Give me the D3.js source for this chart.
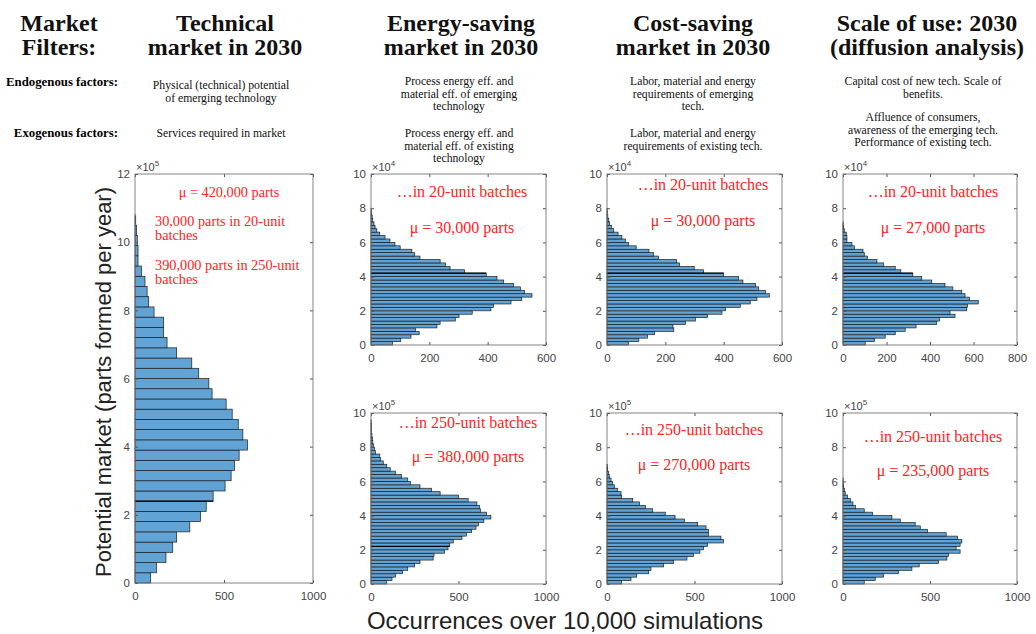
<!DOCTYPE html>
<html>
<head>
<meta charset="utf-8" />
<title>Market filters 2030</title>
<script src="https://cdnjs.cloudflare.com/ajax/libs/d3/7.8.5/d3.min.js"></script>
<style>
  body { margin: 0; background: #fff; }
  svg { display: block; }
</style>
</head>
<body>
<svg id="chart" width="1036" height="634"></svg>
<script>
// histogram counts, lowest bin first
let technical = [88, 120, 174, 212, 234, 308, 368, 400, 439, 506, 540, 559, 585, 632, 606, 580, 546, 512,
                 433, 415, 358, 319, 234, 180, 161, 161, 107, 77, 68, 56, 36, 17, 17, 13, 9, 4]   // 30,000-part bins
let energy20 = [74, 102, 137, 165, 152, 226, 237, 289, 302, 347, 411, 420, 480, 517, 552, 526, 512, 489, 455, 432,
                395, 321, 271, 255, 237, 168, 150, 140, 100, 82, 65, 48, 30, 20, 14, 10, 6, 4, 2, 1]  // 2,000-part bins
let cost20 = [74, 109, 139, 163, 229, 226, 269, 303, 345, 394, 406, 457, 491, 514, 557, 543, 520, 509, 466, 451,
              400, 331, 299, 249, 238, 177, 160, 144, 100, 74, 63, 51, 38, 23, 15, 9, 6, 3, 2, 1]
let scale20 = [102, 145, 194, 240, 286, 336, 431, 443, 515, 492, 569, 572, 622, 581, 561, 546, 505, 469, 408, 362,
               321, 266, 240, 187, 156, 113, 98, 92, 52, 41, 18, 18, 15, 6, 3, 1]
let energy250 = [90, 120, 140, 180, 210, 250, 280, 355, 360, 420, 440, 450, 470, 520, 545, 575, 600, 615, 645, 685,
                 660, 625, 620, 605, 555, 500, 395, 345, 280, 225, 210, 175, 140, 110, 90, 70, 55, 50, 25, 20,
                 15, 10, 8, 5, 3, 2, 2, 1]   // 20,000-part bins
let cost250 = [84, 137, 170, 238, 251, 324, 381, 457, 495, 531, 552, 575, 665, 651, 579, 579, 566, 518, 442, 389,
               333, 261, 219, 185, 147, 84, 80, 61, 42, 32, 23, 13, 8, 4, 2]
let scale250 = [122, 185, 233, 319, 396, 438, 549, 597, 606, 673, 650, 673, 683, 658, 593, 485, 444, 415, 329, 281,
                170, 122, 71, 57, 42, 27, 13, 8, 4, 2, 1]

let columnTitles = [["Market", "Filters:"], ["Technical", "market in 2030"], ["Energy-saving", "market in 2030"],
                    ["Cost-saving", "market in 2030"], ["Scale of use: 2030", "(diffusion analysis)"]]
let rowLabels = ["Endogenous factors:", "Exogenous factors:"]
let endogenous = [["Physical (technical) potential", "of emerging technology"],
                  ["Process energy eff. and", "material eff. of emerging", "technology"],
                  ["Labor, material and energy", "requirements of emerging", "tech."],
                  ["Capital cost of new tech. Scale of", "benefits."]]
let exogenous = [["Services required in market"],
                 ["Process energy eff. and", "material eff. of existing", "technology"],
                 ["Labor, material and energy", "requirements of existing tech."],
                 ["Affluence of consumers,", "awareness of the emerging tech.", "Performance of existing tech."]]
let technicalNotes = ["\u03bc = 420,000 parts", "30,000 parts in 20-unit", "batches", "390,000 parts in 250-unit", "batches"]
let batchNotes = ["\u2026in 20-unit batches", "\u2026in 250-unit batches"]
let means = ["30,000", "30,000", "27,000", "380,000", "270,000", "235,000"]

let yAxisLabel = "Potential market (parts formed per year)"
let xAxisLabel = "Occurrences over 10,000 simulations"

const svg = d3.select('#chart')
const serif = "'Liberation Serif', 'DejaVu Serif', serif"
const sans = "'Liberation Sans', Arial, sans-serif"

// header
const colX = [59, 225, 461, 693, 927]
columnTitles.forEach(function(t, i) {
  t.forEach(function(line, j) {
    svg.append('text').attr('x', colX[i]).attr('y', 31 + j * 24).attr('text-anchor', 'middle')
      .attr('font-family', serif).attr('font-weight', 'bold').attr('font-size', 24)
      .attr('fill', '#111').text(line)
  })
})
rowLabels.forEach(function(t, i) {
  svg.append('text').attr('x', 118).attr('y', i ? 137 : 86).attr('text-anchor', 'end')
    .attr('font-family', serif).attr('font-weight', 'bold').attr('font-size', 12.8).text(t)
})
const factorX = [221, 459, 693, 923]
function factorLines(lines, x, y0) {
  lines.forEach(function(l, j) {
    svg.append('text').attr('x', x).attr('y', y0 + j * 12.5).attr('text-anchor', 'middle')
      .attr('font-family', serif).attr('font-size', 11.7).attr('fill', '#111').text(l)
  })
}
endogenous.forEach(function(lines, i) { factorLines(lines, factorX[i], i === 0 ? 89 : 85) })
exogenous.forEach(function(lines, i) { factorLines(lines, factorX[i], i === 3 ? 121 : 137) })

// panels
const panels = [
  { counts: technical, bin: 30000, yMax: 1.2e6, exp: 5, xMax: 1000, xTicks: [0, 500, 1000],
    box: [135, 174, 313, 583], dark: 240000 },
  { counts: energy20, bin: 2000, yMax: 1e5, exp: 4, xMax: 600, xTicks: [0, 200, 400, 600],
    box: [371, 174, 546, 345], dark: 42000, note: [batchNotes[0], means[0]], noteX: 462, noteY: [197, 233] },
  { counts: cost20, bin: 2000, yMax: 1e5, exp: 4, xMax: 600, xTicks: [0, 200, 400, 600],
    box: [607, 174, 782, 345], dark: 42000, note: [batchNotes[0], means[1]], noteX: 703, noteY: [190, 226] },
  { counts: scale20, bin: 2000, yMax: 1e5, exp: 4, xMax: 800, xTicks: [0, 200, 400, 600, 800],
    box: [843, 174, 1017, 345], dark: 42000, note: [batchNotes[0], means[2]], noteX: 933, noteY: [197, 233] },
  { counts: energy250, bin: 20000, yMax: 1e6, exp: 5, xMax: 1000, xTicks: [0, 500, 1000],
    box: [371, 413, 546, 584], dark: 220000, note: [batchNotes[1], means[3]], noteX: 468, noteY: [428, 462] },
  { counts: cost250, bin: 20000, yMax: 1e6, exp: 5, xMax: 1000, xTicks: [0, 500, 1000],
    box: [607, 413, 782, 584], note: [batchNotes[1], means[4]], noteX: 694, noteY: [435, 470] },
  { counts: scale250, bin: 20000, yMax: 1e6, exp: 5, xMax: 1000, xTicks: [0, 500, 1000],
    box: [843, 413, 1017, 584], note: [batchNotes[1], means[5]], noteX: 933, noteY: [442, 476] }
]

const axisColor = '#555'
panels.forEach(function(p) {
  const [x0, y0, x1, y1] = p.box
  const x = d3.scaleLinear().domain([0, p.xMax]).range([x0, x1])
  const y = d3.scaleLinear().domain([0, p.yMax]).range([y1, y0])
  const g = svg.append('g')

  g.selectAll('rect.bar').data(p.counts).enter().append('rect')
    .attr('class', 'bar')
    .attr('x', x(0))
    .attr('y', function(d, i) { return y((i + 1) * p.bin) })
    .attr('width', function(d) { return x(d) - x(0) })
    .attr('height', function(d, i) { return y(i * p.bin) - y((i + 1) * p.bin) })
    .attr('fill', '#62a3d6')
    .attr('stroke', '#1c1c1c').attr('stroke-width', 0.7)

  if (p.dark) {
    const k = Math.round(p.dark / p.bin)
    const reach = Math.max(p.counts[k - 1] || 0, p.counts[k] || 0)
    g.append('line').attr('x1', x(0)).attr('x2', x(reach))
      .attr('y1', y(p.dark)).attr('y2', y(p.dark)).attr('stroke', '#000').attr('stroke-width', 1.3)
  }

  const yTicks = d3.range(0, p.yMax + 1, 2 * Math.pow(10, p.exp))
  const div = Math.pow(10, p.exp)
  const left = d3.axisLeft(y).tickValues(yTicks).tickSize(-3).tickPadding(5)
    .tickFormat(function(d) { return Math.round(d / div) })
  const right = d3.axisRight(y).tickValues(yTicks).tickSize(-3).tickFormat('')
  const bottom = d3.axisBottom(x).tickValues(p.xTicks).tickSize(-3).tickPadding(9).tickFormat(d3.format('d'))
  const top = d3.axisTop(x).tickValues(p.xTicks).tickSize(-3).tickFormat('')

  const axes = [
    g.append('g').attr('transform', 'translate(' + x0 + ',0)').call(left),
    g.append('g').attr('transform', 'translate(' + x1 + ',0)').call(right),
    g.append('g').attr('transform', 'translate(0,' + y1 + ')').call(bottom),
    g.append('g').attr('transform', 'translate(0,' + y0 + ')').call(top)
  ]
  axes.forEach(function(a) {
    a.select('.domain').remove()
    a.selectAll('line').attr('stroke', axisColor)
    a.selectAll('text').attr('fill', '#444').attr('font-family', sans).attr('font-size', 11.5)
  })
  g.append('rect').attr('x', x0).attr('y', y0).attr('width', x1 - x0).attr('height', y1 - y0)
    .attr('fill', 'none').attr('stroke', '#777').attr('stroke-width', 0.9)

  const mult = g.append('text').attr('x', x0 + 1).attr('y', y0 - 3)
    .attr('font-family', sans).attr('font-size', 11).attr('fill', '#444').text('\u00d710')
  mult.append('tspan').attr('dy', -5).attr('font-size', 8).text(p.exp)

  if (p.note) {
    g.append('text').attr('x', p.noteX).attr('y', p.noteY[0]).attr('text-anchor', 'middle')
      .attr('font-family', serif).attr('font-size', 16).attr('fill', '#ff2424').text(p.note[0])
    g.append('text').attr('x', p.noteX).attr('y', p.noteY[1]).attr('text-anchor', 'middle')
      .attr('font-family', serif).attr('font-size', 16).attr('fill', '#ff2424').text('\u03bc = ' + p.note[1] + ' parts')
  }
})

// notes of the technical panel
const tn = svg.append('g').attr('font-family', serif).attr('font-size', 14.3).attr('fill', '#ff2424')
tn.append('text').attr('x', 229).attr('y', 197).attr('text-anchor', 'middle').text(technicalNotes[0])
const tnY = [226, 240, 270, 284]
technicalNotes.slice(1).forEach(function(t, i) {
  tn.append('text').attr('x', 155).attr('y', tnY[i]).text(t)
})

// axis titles
svg.append('text').attr('transform', 'translate(111,382) rotate(-90)').attr('text-anchor', 'middle')
  .attr('font-family', sans).attr('font-size', 22).attr('fill', '#222').text(yAxisLabel)
svg.append('text').attr('x', 565).attr('y', 629).attr('text-anchor', 'middle')
  .attr('font-family', sans).attr('font-size', 24).attr('fill', '#222').text(xAxisLabel)
</script>
</body>
</html>
